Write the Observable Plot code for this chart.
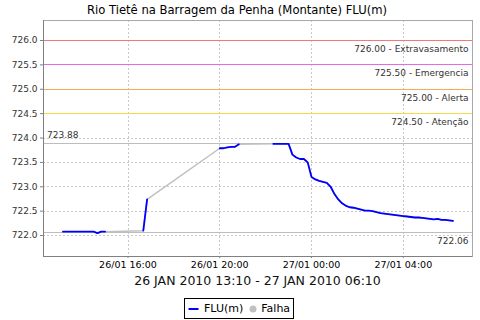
<!DOCTYPE html>
<html><head><meta charset="utf-8">
<script src="https://cdn.jsdelivr.net/npm/d3@7"></script>
<script src="https://cdn.jsdelivr.net/npm/@observablehq/plot@0.6"></script>
<style>
body{margin:0;background:#fff;font-family:"DejaVu Sans",sans-serif;}
#wrap{position:relative;width:480px;height:320px;overflow:hidden;background:#fff;}
#title{position:absolute;left:0;top:3px;width:474px;text-align:center;font-size:11.6px;color:#000;white-space:nowrap;}
#subtitle{position:absolute;left:43px;top:273px;width:429px;text-align:center;font-size:12.5px;color:#111;white-space:nowrap;}
#chart{position:absolute;left:0;top:19px;}
#legend{position:absolute;left:184px;top:298px;height:19px;border:1px solid #000;display:flex;align-items:center;font-size:11px;padding:0 3px 0 2px;white-space:nowrap;}
#legend svg{display:block;}
</style></head>
<body><div id="wrap"><div id="title"></div><div id="chart"></div><div id="subtitle"></div><div id="legend"></div></div>
<script>
const titleText = "Rio Tietê na Barragem da Penha (Montante) FLU(m)";
const subtitleText = "26 JAN 2010 13:10 - 27 JAN 2010 06:10";
const seriesNames = ["FLU(m)", "Falha"];
const seriesColors = ["#0000ff", "#c0c0c0"];

const times = [
  "2010-01-26T13:10","2010-01-26T13:20","2010-01-26T13:30","2010-01-26T13:40","2010-01-26T13:50",
  "2010-01-26T14:00","2010-01-26T14:10","2010-01-26T14:20","2010-01-26T14:30","2010-01-26T14:40",
  "2010-01-26T14:50","2010-01-26T15:00","2010-01-26T15:10",
  "2010-01-26T16:40","2010-01-26T16:50","2010-01-26T17:00",
  "2010-01-26T20:00","2010-01-26T20:10","2010-01-26T20:20","2010-01-26T20:30","2010-01-26T20:40",
  "2010-01-26T20:50","2010-01-26T21:00",
  "2010-01-26T22:20","2010-01-26T22:30","2010-01-26T22:40","2010-01-26T22:50","2010-01-26T23:00",
  "2010-01-26T23:10","2010-01-26T23:20","2010-01-26T23:30","2010-01-26T23:40","2010-01-26T23:50",
  "2010-01-27T00:00","2010-01-27T00:10","2010-01-27T00:20","2010-01-27T00:30","2010-01-27T00:40",
  "2010-01-27T00:50","2010-01-27T01:00","2010-01-27T01:10","2010-01-27T01:20","2010-01-27T01:30",
  "2010-01-27T01:40","2010-01-27T01:50","2010-01-27T02:00","2010-01-27T02:10","2010-01-27T02:20",
  "2010-01-27T02:30","2010-01-27T02:40","2010-01-27T02:50","2010-01-27T03:00","2010-01-27T03:10",
  "2010-01-27T03:20","2010-01-27T03:30","2010-01-27T03:40","2010-01-27T03:50","2010-01-27T04:00",
  "2010-01-27T04:10","2010-01-27T04:20","2010-01-27T04:30","2010-01-27T04:40","2010-01-27T04:50",
  "2010-01-27T05:00","2010-01-27T05:10","2010-01-27T05:20","2010-01-27T05:30","2010-01-27T05:40",
  "2010-01-27T05:50","2010-01-27T06:00","2010-01-27T06:10"
];
const levels = [
  722.08,722.08,722.08,722.08,722.08,
  722.08,722.08,722.08,722.08,722.05,
  722.08,722.08,null,
  722.10,722.74,null,
  723.79,723.79,723.81,723.82,723.82,
  723.87,null,
  723.88,723.88,723.88,723.88,723.88,
  723.66,723.60,723.57,723.57,723.50,
  723.20,723.15,723.12,723.10,723.08,
  723.00,722.85,722.74,722.66,722.61,
  722.58,722.57,722.55,722.53,722.51,
  722.51,722.50,722.48,722.46,722.45,
  722.44,722.43,722.42,722.41,722.40,
  722.39,722.38,722.37,722.37,722.36,
  722.35,722.34,722.33,722.34,722.32,
  722.32,722.31,722.30
];

const thresholdValues = [726.0, 725.5, 725.0, 724.5];
const thresholdNames = ["Extravasamento", "Emergencia", "Alerta", "Atenção"];
const thresholdColors = ["#f47878", "#e868e8", "#f5ac58", "#f0dc48"];

const maxValue = 723.88;
const minValue = 722.06;

const yTicks = [722.0, 722.5, 723.0, 723.5, 724.0, 724.5, 725.0, 725.5, 726.0];
const xTickLabels = ["2010-01-26T16:00", "2010-01-26T20:00", "2010-01-27T00:00", "2010-01-27T04:00"];
const xDomainLabels = ["2010-01-26T12:19", "2010-01-27T07:01"];
const yDomain = [721.57, 726.41];

const toDate = s => new Date(s + ":00Z");
const data = times.map((t, i) => ({time: toDate(t), value: levels[i]}));
const valid = data.filter(d => d.value != null);
const xTicks = xTickLabels.map(toDate);
const xDomain = xDomainLabels.map(toDate);
const thresholds = thresholdValues.map((v, i) => ({value: v, label: v.toFixed(2) + " - " + thresholdNames[i], color: thresholdColors[i]}));
const gridTicks = yTicks.filter(t => !thresholdValues.includes(t));

document.getElementById("title").textContent = titleText;
document.getElementById("subtitle").textContent = subtitleText;

const crisp = {shapeRendering: "crispEdges"};
const chart = Plot.plot({
  width: 480, height: 273,
  marginLeft: 43, marginRight: 8, marginTop: 1, marginBottom: 36,
  style: {fontFamily: "DejaVu Sans", background: "white", color: "#333", overflow: "visible"},
  x: {type: "utc", domain: xDomain},
  y: {domain: yDomain},
  color: {type: "identity"},
  marks: [
    Plot.gridX(xTicks, {stroke: "#c8c8c8", strokeOpacity: 1, strokeDasharray: "2,2", ...crisp}),
    Plot.gridY(gridTicks, {stroke: "#c8c8c8", strokeOpacity: 1, strokeDasharray: "2,2", ...crisp}),
    Plot.ruleY(thresholds, {y: "value", stroke: "color", strokeWidth: 1, ...crisp}),
    Plot.text(thresholds, {y: "value", text: "label", frameAnchor: "right", textAnchor: "end", lineAnchor: "bottom", dx: -4, dy: 11.5, fontSize: 9, fill: "#333"}),
    Plot.ruleY([maxValue, minValue], {stroke: "#bdbdbd", strokeWidth: 1, ...crisp}),
    Plot.text([maxValue], {y: d => d, text: d => d.toFixed(2), frameAnchor: "left", textAnchor: "start", lineAnchor: "bottom", dx: 3.5, dy: -5.5, fontSize: 9, fill: "#333"}),
    Plot.text([minValue], {y: d => d, text: d => d.toFixed(2), frameAnchor: "right", textAnchor: "end", lineAnchor: "bottom", dx: -4, dy: 11, fontSize: 9, fill: "#333"}),
    Plot.line(valid, {x: "time", y: "value", stroke: seriesColors[1], strokeWidth: 1.5}),
    Plot.line(data, {x: "time", y: "value", stroke: seriesColors[0], strokeWidth: 1.8}),
    Plot.frame({stroke: "#a8a8a8", ...crisp}),
    Plot.ruleX([xDomain[0]], {stroke: "#808080", ...crisp}),
    Plot.ruleY([yDomain[0]], {stroke: "#808080", ...crisp}),
    Plot.axisY(yTicks, {tickSize: 3, tickPadding: 3, tickFormat: d3.format(".1f"), fontSize: 9, label: null, stroke: "#808080", fill: "#333"}),
    Plot.axisX(xTicks, {tickSize: 2, tickPadding: 3, tickFormat: d3.utcFormat("%d/%m %H:%M"), fontSize: 9.5, label: null, stroke: "#808080", fill: "#000"})
  ]
});
document.getElementById("chart").appendChild(chart);

const legend = document.getElementById("legend");
const ns = "http://www.w3.org/2000/svg";
seriesNames.forEach((name, i) => {
  const svg = document.createElementNS(ns, "svg");
  if (i === 0) {
    svg.setAttribute("width", 13); svg.setAttribute("height", 10);
    const l = document.createElementNS(ns, "line");
    l.setAttribute("x1", 1.5); l.setAttribute("x2", 11.5); l.setAttribute("y1", 5); l.setAttribute("y2", 5);
    l.setAttribute("stroke", seriesColors[i]); l.setAttribute("stroke-width", 2);
    svg.appendChild(l);
  } else {
    svg.setAttribute("width", 10); svg.setAttribute("height", 10);
    svg.style.marginLeft = "5px";
    const c = document.createElementNS(ns, "circle");
    c.setAttribute("cx", 5); c.setAttribute("cy", 5); c.setAttribute("r", 3.5);
    c.setAttribute("fill", seriesColors[i]);
    svg.appendChild(c);
  }
  legend.appendChild(svg);
  const span = document.createElement("span");
  span.textContent = name;
  span.style.marginLeft = i === 0 ? "4px" : "3px";
  legend.appendChild(span);
});
</script>
</body></html>
